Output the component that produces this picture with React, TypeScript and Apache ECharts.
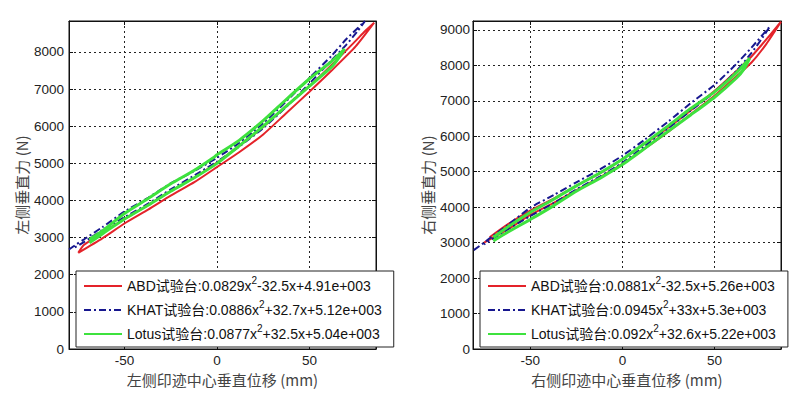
import React, { useEffect, useRef } from "react";
import * as echarts from "echarts";

// ---------- data ----------
const seriesNames = ["ABD试验台", "KHAT试验台", "Lotus试验台"];
const leftFormulas = [
  ":0.0829x{s|2}-32.5x+4.91e+003",
  ":0.0886x{s|2}+32.7x+5.12e+003",
  ":0.0877x{s|2}+32.5x+5.04e+003",
];
const rightFormulas = [
  ":0.0881x{s|2}-32.5x+5.26e+003",
  ":0.0945x{s|2}+33x+5.3e+003",
  ":0.092x{s|2}+32.6x+5.22e+003",
];
const xTickValues = [-50, 0, 50];
const leftYTickValues = [0, 1000, 2000, 3000, 4000, 5000, 6000, 7000, 8000];
const rightYTickValues = [0, 1000, 2000, 3000, 4000, 5000, 6000, 7000, 8000, 9000];
const leftXName = "左侧印迹中心垂直位移 (mm)";
const rightXName = "右侧印迹中心垂直位移 (mm)";
const leftYName = "左侧垂直力 (N)";
const rightYName = "右侧垂直力 (N)";

// left chart loops [x (mm), force (N)]
const leftAbd = [
  [-75, 2590], [-62, 2980], [-50, 3380], [-37, 3760], [-25, 4130], [-12, 4500], [0, 4900],
  [12, 5300], [25, 5780], [37, 6330], [50, 6930], [62, 7500], [75, 8150], [85, 8790],
  [80, 8560], [75, 8300], [62, 7650], [50, 7080], [37, 6520], [25, 5980], [12, 5470],
  [0, 5020], [-12, 4620], [-25, 4250], [-37, 3880], [-50, 3500], [-62, 3130], [-72, 2800], [-75, 2590],
];
const leftKhat = [
  [-80, 2680], [-76, 2820], [-72, 2950], [-62, 3280], [-50, 3700], [-37, 4080], [-25, 4460],
  [-12, 4800], [0, 5150], [12, 5550], [25, 6080], [37, 6650], [50, 7300], [62, 7900], [70, 8350], [80, 8830],
  [76, 8560], [70, 8200], [62, 7780], [50, 7150], [37, 6500], [25, 5950], [12, 5450], [0, 5050],
  [-12, 4680], [-25, 4300], [-37, 3920], [-50, 3550], [-62, 3200], [-72, 2880], [-78, 2700],
];
const leftLotus = [
  [-69, 2950], [-62, 3180], [-50, 3650], [-37, 4060], [-25, 4450], [-12, 4820], [-2, 5150], [0, 5230],
  [12, 5620], [25, 6150], [37, 6700], [50, 7280], [62, 7750], [69, 8080],
  [66, 7850], [62, 7600], [50, 7080], [37, 6520], [25, 6000], [12, 5470], [0, 5000],
  [-12, 4620], [-25, 4250], [-37, 3880], [-50, 3500], [-62, 3100], [-69, 2860],
];

// right chart loops [x (mm), force (N)]
const rightAbd = [
  [-75, 3000], [-62, 3380], [-50, 3780], [-37, 4130], [-25, 4480], [-12, 4850], [0, 5220],
  [12, 5650], [25, 6130], [37, 6620], [50, 7150], [62, 7700], [70, 8080], [78, 8600], [86, 9230],
  [80, 8850], [70, 8250], [62, 7850], [50, 7280], [37, 6730], [25, 6250], [12, 5780], [0, 5350],
  [-12, 4960], [-25, 4600], [-37, 4250], [-50, 3900], [-62, 3520], [-72, 3150],
];
const rightKhat = [
  [-80.6, 2790], [-75, 3000], [-70, 3200], [-62, 3500], [-50, 3980], [-37, 4350], [-25, 4700],
  [-12, 5070], [0, 5450], [12, 5900], [25, 6420], [37, 6930], [50, 7450], [62, 8050], [70, 8500], [80, 9100],
  [76, 8780], [70, 8350], [62, 7850], [50, 7250], [37, 6720], [25, 6230], [12, 5720], [0, 5250],
  [-12, 4870], [-25, 4500], [-37, 4120], [-50, 3750], [-62, 3380], [-75, 2950],
];
const rightLotus = [
  [-70, 3150], [-62, 3450], [-50, 3850], [-37, 4230], [-25, 4600], [-12, 4970], [0, 5350],
  [12, 5800], [25, 6300], [37, 6780], [50, 7250], [62, 7800], [69, 8200],
  [66, 7900], [62, 7650], [50, 7100], [37, 6600], [25, 6150], [12, 5650], [0, 5200],
  [-12, 4820], [-25, 4450], [-37, 4050], [-50, 3650], [-62, 3300], [-70, 3050],
];

// ---------- styles ----------
const LATIN = "'Liberation Sans', Arial, 'Noto Sans CJK SC', sans-serif";
const CJK = "'Noto Sans CJK SC', 'Liberation Sans', sans-serif";
const colors = ["#e4232a", "#17178f", "#3ee23e"];
const lineStyles: any[] = [
  { width: 2, type: "solid" },
  { width: 2, type: [7, 3, 2, 3] },
  { width: 3, type: "solid" },
];

function makeAxes(gridIndex: number, xMin: number, xMax: number, yMax: number, yTicks: number[], xName: string, yName: string, yNameGap: number, yLabelMargin: number) {
  const common = {
    gridIndex,
    type: "value",
    axisLine: { show: true, onZero: false, lineStyle: { color: "#111", width: 1 } },
    axisTick: { show: true, inside: true, length: 4, lineStyle: { color: "#111" } },
  };
  const labelFmt = (v: number) => String(v);
  const xs = [
    {
      ...common,
      position: "bottom",
      min: xMin,
      max: xMax,
      name: xName,
      nameLocation: "middle",
      nameGap: 20,
      nameTextStyle: { fontFamily: CJK, fontSize: 15, color: "#444" },
      axisTick: { ...common.axisTick, customValues: xTickValues },
      axisLabel: { customValues: xTickValues, formatter: labelFmt, fontFamily: LATIN, fontSize: 13.5, color: "#222", margin: 5 },
      splitLine: { show: true, lineStyle: { color: "#222", type: [2, 3], width: 1 } },
    },
    {
      ...common,
      position: "top",
      min: xMin,
      max: xMax,
      axisTick: { ...common.axisTick, customValues: xTickValues },
      axisLabel: { show: false },
      splitLine: { show: false },
    },
  ];
  const ys = [
    {
      ...common,
      position: "left",
      min: 0,
      max: yMax,
      name: yName,
      nameLocation: "middle",
      nameGap: yNameGap,
      nameTextStyle: { fontFamily: CJK, fontSize: 15, color: "#444" },
      axisTick: { ...common.axisTick, customValues: yTicks },
      axisLabel: { customValues: yTicks, formatter: labelFmt, fontFamily: LATIN, fontSize: 13.5, color: "#222", margin: yLabelMargin },
      splitLine: { show: true, lineStyle: { color: "#222", type: [2, 3], width: 1 } },
    },
    {
      ...common,
      position: "right",
      min: 0,
      max: yMax,
      axisTick: { ...common.axisTick, customValues: yTicks },
      axisLabel: { show: false },
      splitLine: { show: false },
    },
  ];
  return { xs, ys };
}

function makeSeries(datas: number[][][], axisIndex: number) {
  return datas.map((d, i) => ({
    type: "line",
    name: seriesNames[i],
    data: d,
    xAxisIndex: axisIndex,
    yAxisIndex: axisIndex,
    symbol: "none",
    smooth: 0.2,
    color: colors[i],
    lineStyle: { color: colors[i], ...lineStyles[i] },
    z: 2 + i,
  }));
}

function makeLegend(left: number, formulas: string[], padRight: number) {
  return {
    orient: "vertical",
    left,
    top: 271,
    data: seriesNames,
    backgroundColor: "#fff",
    borderColor: "#222",
    borderWidth: 1,
    borderRadius: 0,
    padding: [4, padRight, 2, 7],
    itemWidth: 38,
    itemHeight: 14,
    itemGap: 2,
    selectedMode: false,
    itemStyle: { opacity: 0 },
    textStyle: {
      fontFamily: LATIN,
      fontSize: 14,
      color: "#111",
      lineHeight: 22,
      rich: {
        s: { fontSize: 10, verticalAlign: "top", fontFamily: LATIN, color: "#111", lineHeight: 12 },
      },
    },
    formatter: (name: string) => name + formulas[seriesNames.indexOf(name)],
  };
}

export default function App() {
  const ref = useRef<HTMLDivElement>(null);
  useEffect(() => {
    if (!ref.current) return;
    const chart = echarts.init(ref.current, undefined, { renderer: "svg" });
    const L = makeAxes(0, -80, 86, 8835, leftYTickValues, leftXName, leftYName, 40, 5);
    const R = makeAxes(1, -81, 86, 9250, rightYTickValues, rightXName, rightYName, 38, 3);
    chart.setOption({
      animation: false,
      backgroundColor: "#fff",
      grid: [
        { left: 69, top: 21, width: 307, height: 328, show: true, borderColor: "#111", borderWidth: 1, backgroundColor: "#fff" },
        { left: 473, top: 21, width: 308, height: 328, show: true, borderColor: "#111", borderWidth: 1, backgroundColor: "#fff" },
      ],
      xAxis: [...L.xs, ...R.xs],
      yAxis: [...L.ys, ...R.ys],
      legend: [makeLegend(76, leftFormulas, 12), makeLegend(480, rightFormulas, 12)],
      series: [
        ...makeSeries([leftAbd, leftKhat, leftLotus], 0),
        ...makeSeries([rightAbd, rightKhat, rightLotus], 2),
      ],
    });
    return () => chart.dispose();
  }, []);
  return <div ref={ref} style={{ position: "fixed", left: 0, top: 0, width: 800, height: 395, background: "#fff" }} />;
}
